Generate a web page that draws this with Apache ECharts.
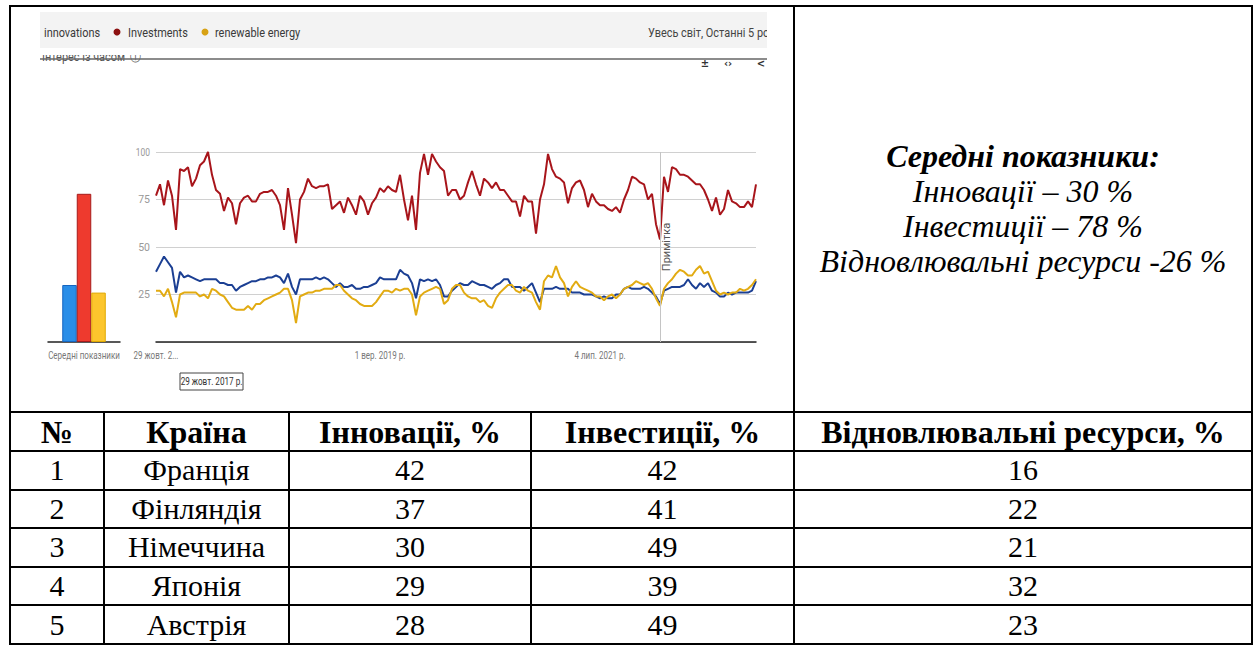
<!DOCTYPE html>
<html>
<head>
<meta charset="utf-8">
<script src="https://cdn.jsdelivr.net/npm/echarts@6/dist/echarts.min.js"></script>
<style>
html,body{margin:0;padding:0;background:#fff;}
#wrap{position:relative;width:1254px;height:645px;overflow:hidden;background:#fff;}
#tbl{position:absolute;left:9px;top:5px;border-collapse:collapse;table-layout:fixed;width:1242px;
  font-family:'Liberation Serif','Times New Roman',serif;color:#000;}
#tbl td,#tbl th{border:2px solid #000;padding:0;text-align:center;vertical-align:middle;font-size:30px;line-height:1;white-space:nowrap;}
#tbl th{font-weight:bold;font-size:32px;}
#tbl td.avg{font-style:italic;font-size:32px;line-height:35px;}
#tbl td.avg b{font-weight:bold;}
#chart{position:absolute;left:0;top:0;width:1254px;height:645px;}
</style>
</head>
<body>
<div id="wrap">
  <table id="tbl">
    <colgroup>
      <col style="width:94px"><col style="width:185px"><col style="width:242px"><col style="width:263px"><col style="width:458px">
    </colgroup>
    <tbody id="tbody"></tbody>
  </table>
  <div id="chart"></div>
</div>
<script>
// ---------------- data ----------------
const seriesNames = ['innovations', 'Investments', 'renewable energy'];
const avgLabels = ['Інновації', 'Інвестиції', 'Відновлювальні ресурси'];
const avgValues = [30, 78, 26];
const barCategory = ['Середні показники'];

const innovations = [
  37,41,45,42,39,26,37,34,35,34, 33,32,33,33,33,33,31,31,30,30,
  27,29,30,31,32,32,33,33,34,34, 35,34,31,36,29,25,33,33,33,33,
  34,33,34,33,31,29,31,29,29,30, 28,28,29,29,30,31,34,33,33,33,
  33,38,36,35,31,23,33,32,33,32, 33,30,24,24,27,
  29,31,30,30,32,31,30,30,29,28, 30,31,33,33,29,29,29,27,29,31,
  26,21,28,28,28,29,28,28,28,26, 26,26,25,25,25,24,23,24,23,23,
  25,25,28,29,28,28,28,29,28,26, 24,20,27,28,29,29,29,30,33,30,
  28,31,29,31,27,26,24,24,26,25, 26,26,26,26,27,32
];
const investments = [
  77,83,72,85,77,59,91,90,92,82, 86,93,95,100,88,80,78,69,76,73,
  62,73,76,77,74,74,78,79,79,80, 77,72,59,81,67,52,75,79,86,82,
  81,82,82,83,70,72,74,68,76,72, 67,77,74,67,73,76,81,79,82,80,
  79,88,75,64,77,59,89,99,88,99, 95,92,90,77,80,
  80,75,77,84,90,83,77,86,84,81, 84,80,80,77,74,74,66,77,74,74,
  57,75,83,99,91,87,86,84,73,81, 84,85,80,71,78,74,72,72,70,69,
  71,68,75,80,87,86,84,83,75,78, 62,54,87,79,92,91,88,88,87,85,
  83,83,80,75,69,76,67,70,80,74, 73,71,71,74,71,83
];
const renewable = [
  27,27,24,28,21,13,25,26,26,26, 26,24,25,23,28,27,25,24,21,18,
  17,17,17,19,17,20,20,22,23,24, 25,26,28,28,22,10,24,25,26,26,
  27,27,28,28,28,30,30,27,25,23, 22,20,19,19,19,21,24,27,27,26,
  28,27,28,28,25,14,24,26,27,28, 29,28,20,22,28,
  30,30,26,24,23,23,21,22,19,18, 23,26,28,30,30,27,26,29,27,26,
  21,17,32,35,34,40,34,31,24,29, 32,29,28,27,26,24,24,22,24,25,
  23,25,28,29,30,32,31,30,31,28, 23,19,28,31,33,36,38,37,35,35,
  38,40,36,37,32,27,25,26,25,26, 26,28,27,28,30,33
];
const yTicks = [100, 75, 50, 25];
const xTickIndex = [0, 56, 111];
const xTickLabels = ['29 жовт. 2...', '1 вер. 2019 р.', '4 лип. 2021 р.'];
const noteIndex = 126;
const noteLabel = 'Примітка';
const selectedDate = '29 жовт. 2017 р.';
const regionText = 'Увесь світ, Останні 5 років';
const panelTitle = 'Інтерес із часом';

const countries = ['Франція', 'Фінляндія', 'Німеччина', 'Японія', 'Австрія'];
const tblInnov = [42, 37, 30, 29, 28];
const tblInvest = [42, 41, 49, 39, 49];
const tblRenew = [16, 22, 21, 32, 23];
const tblHeader = ['№', 'Країна', 'Інновації, %', 'Інвестиції, %', 'Відновлювальні ресурси, %'];
const avgTitle = 'Середні показники:';

// ---------------- table ----------------
const tb = document.getElementById('tbody');
let html = '<tr style="height:406px"><td colspan="4"></td><td class="avg"><b>' + avgTitle + '</b><br>' +
  avgLabels[0] + ' – ' + avgValues[0] + ' %<br>' +
  avgLabels[1] + ' – ' + avgValues[1] + ' %<br>' +
  avgLabels[2] + ' -' + avgValues[2] + ' %</td></tr>';
html += '<tr style="height:39px">' + tblHeader.map(h => '<th>' + h + '</th>').join('') + '</tr>';
countries.forEach((c, i) => {
  html += '<tr style="height:38.6px"><td>' + (i + 1) + '</td><td>' + c + '</td><td>' + tblInnov[i] +
    '</td><td>' + tblInvest[i] + '</td><td>' + tblRenew[i] + '</td></tr>';
});
tb.innerHTML = html;

// ---------------- chart ----------------
const UI = "Roboto, 'Liberation Sans', sans-serif";
const COL = {
  innov: '#1b3f93', invest: '#a8151b', renew: '#e2ab12',
  barBlue: '#2a8ee8', barRed: '#ee3a2e', barYellow: '#fcc62d'
};
const cats = innovations.map((_, i) => String(i));
const vmid = { verticalAlign: 'middle', textVerticalAlign: 'middle' };

const chart = echarts.init(document.getElementById('chart'), null, { renderer: 'svg' });
chart.setOption({
  animation: false,
  grid: [
    { left: 48, top: 152, width: 72, height: 190 },
    { left: 156, top: 152, width: 600, height: 190 }
  ],
  xAxis: [
    {
      type: 'category', gridIndex: 0, data: barCategory,
      axisLine: { lineStyle: { color: '#222', width: 1.5 } },
      axisTick: { show: false },
      axisLabel: { color: '#777', fontSize: 10, fontFamily: UI, margin: 8 }
    },
    {
      type: 'category', gridIndex: 1, data: cats, boundaryGap: false,
      axisLine: { lineStyle: { color: '#222', width: 1.5 } },
      axisTick: { show: false },
      splitLine: { show: false },
      axisLabel: {
        color: '#777', fontSize: 10, fontFamily: UI, margin: 8,
        interval: (idx) => xTickIndex.includes(idx),
        formatter: (v, idx) => { const p = xTickIndex.indexOf(idx); return p >= 0 ? xTickLabels[p] : ''; }
      }
    }
  ],
  yAxis: [
    {
      type: 'value', gridIndex: 0, min: 0, max: 100, interval: 25,
      axisLine: { show: false }, axisTick: { show: false }, axisLabel: { show: false },
      splitLine: { show: false }
    },
    {
      type: 'value', gridIndex: 1, min: 0, max: 100, interval: 25,
      axisLine: { show: false }, axisTick: { show: false },
      axisLabel: {
        color: '#999', fontSize: 10.5, fontFamily: UI, margin: 6,
        formatter: (v) => yTicks.includes(v) ? String(v) : ''
      },
      splitLine: { show: true, lineStyle: { color: '#d0d0d0', width: 1 } }
    }
  ],
  series: [
    { name: avgLabels[0], type: 'bar', xAxisIndex: 0, yAxisIndex: 0, data: [avgValues[0]], barWidth: 14.5, barGap: '0%',
      itemStyle: { color: COL.barBlue, borderColor: '#1565c0', borderWidth: 1 } },
    { name: avgLabels[1], type: 'bar', xAxisIndex: 0, yAxisIndex: 0, data: [avgValues[1]], barWidth: 14.5, barGap: '0%',
      itemStyle: { color: COL.barRed, borderColor: '#a61b1b', borderWidth: 1 } },
    { name: avgLabels[2], type: 'bar', xAxisIndex: 0, yAxisIndex: 0, data: [avgValues[2]], barWidth: 14.5, barGap: '0%',
      itemStyle: { color: COL.barYellow, borderColor: '#e0a800', borderWidth: 1 } },
    { name: seriesNames[0], type: 'line', xAxisIndex: 1, yAxisIndex: 1, data: innovations, showSymbol: false,
      lineStyle: { color: COL.innov, width: 2 }, itemStyle: { color: COL.innov } },
    { name: seriesNames[1], type: 'line', xAxisIndex: 1, yAxisIndex: 1, data: investments, showSymbol: false,
      lineStyle: { color: COL.invest, width: 2 }, itemStyle: { color: COL.invest },
      markLine: { silent: true, symbol: ['none', 'none'], label: { show: false },
        lineStyle: { color: '#c4c4c4', type: 'solid', width: 1 }, data: [{ xAxis: noteIndex }] } },
    { name: seriesNames[2], type: 'line', xAxisIndex: 1, yAxisIndex: 1, data: renewable, showSymbol: false,
      lineStyle: { color: COL.renew, width: 2 }, itemStyle: { color: COL.renew } }
  ],
  graphic: [
    { type: 'rect', z: 0, shape: { x: 40, y: 12, width: 727, height: 36 }, style: { fill: '#f3f3f3' } },
    { type: 'text', z: 1, x: 44, y: 32, style: Object.assign({ text: seriesNames[0], font: '13px ' + UI, fill: '#3a3a3a' }, vmid) },
    { type: 'circle', z: 1, shape: { cx: 117, cy: 32, r: 3.5 }, style: { fill: '#8c1111' } },
    { type: 'text', z: 1, x: 128, y: 32, style: Object.assign({ text: seriesNames[1], font: '13px ' + UI, fill: '#3a3a3a' }, vmid) },
    { type: 'circle', z: 1, shape: { cx: 205, cy: 32, r: 3.5 }, style: { fill: '#d8a214' } },
    { type: 'text', z: 1, x: 215, y: 32, style: Object.assign({ text: seriesNames[2], font: '13px ' + UI, fill: '#3a3a3a' }, vmid) },
    { type: 'text', z: 1, x: 648, y: 32, style: Object.assign({ text: regionText, font: '13px ' + UI, fill: '#444' }, vmid) },
    { type: 'rect', z: 5, shape: { x: 767, y: 10, width: 23, height: 46 }, style: { fill: '#fff' } },
    { type: 'text', z: 1, x: 42, y: 63, style: { text: panelTitle + '  ⓘ', font: '13px ' + UI, fill: '#555', verticalAlign: 'bottom', textVerticalAlign: 'bottom' } },
    { type: 'rect', z: 5, shape: { x: 40, y: 48, width: 130, height: 7 }, style: { fill: '#fff' } },
    { type: 'line', z: 6, shape: { x1: 40, y1: 59, x2: 767, y2: 59 }, style: { stroke: '#666', lineWidth: 1.5 } },
    { type: 'text', z: 6, x: 705, y: 63, style: Object.assign({ text: '±', font: 'bold 10px DejaVu Sans', fill: '#333', align: 'center', textAlign: 'center' }, vmid) },
    { type: 'text', z: 6, x: 728, y: 63, style: Object.assign({ text: '‹›', font: 'bold 10px DejaVu Sans', fill: '#333', align: 'center', textAlign: 'center' }, vmid) },
    { type: 'text', z: 6, x: 761, y: 63, style: Object.assign({ text: '<', font: 'bold 10px DejaVu Sans', fill: '#333', align: 'center', textAlign: 'center' }, vmid) },
    { type: 'text', z: 10, x: 666, y: 247, rotation: Math.PI / 2, style: Object.assign({ text: noteLabel, font: '11px Roboto, sans-serif', fill: '#555', align: 'center', textAlign: 'center' }, vmid) },
    { type: 'rect', z: 6, shape: { x: 180, y: 373, width: 63, height: 17 }, style: { fill: '#fff', stroke: '#444', lineWidth: 1 } },
    { type: 'text', z: 7, x: 211.5, y: 381.5, style: Object.assign({ text: selectedDate, font: '11px ' + UI, fill: '#333', align: 'center', textAlign: 'center' }, vmid) }
  ]
});

// The Trends screenshot uses a condensed typeface: squeeze its texts horizontally.
const wideSet = new Set([seriesNames[0], seriesNames[1], seriesNames[2], regionText, panelTitle + '  ⓘ']);
function condense() {
  const svg = document.querySelector('#chart svg');
  if (!svg) return;
  svg.querySelectorAll('text').forEach(t => {
    const s = t.textContent;
    if (!s || s.length <= 2 || s === noteLabel || t.getAttribute('data-cond')) return;
    const f = wideSet.has(s) ? 0.84 : (s === selectedDate ? 0.74 : 0.8);
    const w = t.getComputedTextLength();
    if (w > 0) {
      t.setAttribute('textLength', (w * f).toFixed(1));
      t.setAttribute('lengthAdjust', 'spacingAndGlyphs');
      t.setAttribute('data-cond', '1');
    }
  });
}
try { chart.getZr().flush(); } catch (e) {}
condense();
chart.on('finished', condense);
</script>
</body>
</html>
